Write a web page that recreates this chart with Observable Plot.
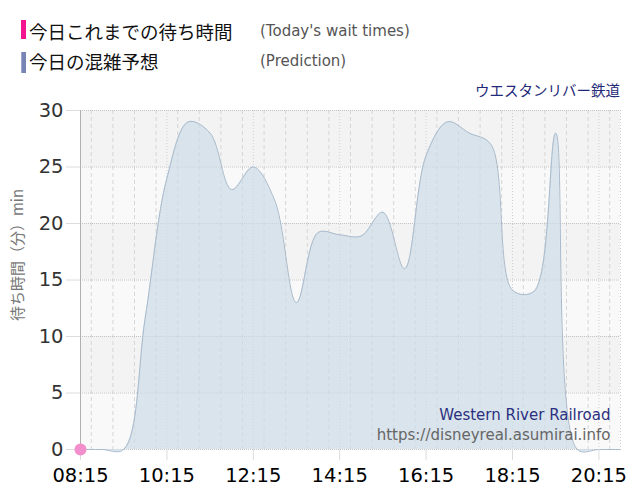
<!DOCTYPE html>
<html><head><meta charset="utf-8">
<script src="https://cdn.jsdelivr.net/npm/d3@7"></script>
<script src="https://cdn.jsdelivr.net/npm/@observablehq/plot@0.6"></script>
<style>
body{margin:0;background:#fff;font-family:"DejaVu Sans","Noto Sans CJK JP",sans-serif;}
#wrap{position:relative;width:640px;height:500px;overflow:hidden;}
#legend{position:relative;width:640px;height:100px;}
#legend div{position:absolute;white-space:nowrap;}
.bar{width:5px;}
.jp{font-size:18.5px;line-height:22px;color:#111;font-family:"Noto Sans CJK JP",sans-serif;}
.en{font-size:15px;line-height:20px;color:#555;}
</style></head>
<body>
<div id="wrap">
  <div id="legend">
    <div class="bar" style="left:21px;top:20px;height:19px;background:#f5148f;"></div>
    <div class="jp" style="left:29px;top:20px;">今日これまでの待ち時間</div>
    <div class="en" style="left:260px;top:21px;">(Today's wait times)</div>
    <div class="bar" style="left:21px;top:52px;height:21px;background:#7884b4;border-left:1px solid #a0a8cc;box-sizing:border-box;"></div>
    <div class="jp" style="left:29px;top:50px;">今日の混雑予想</div>
    <div class="en" style="left:260px;top:51px;">(Prediction)</div>
    <div style="right:20px;top:80px;font-size:14.5px;line-height:20px;color:#1f2a78;font-family:'Noto Sans CJK JP',sans-serif;">ウエスタンリバー鉄道</div>
  </div>
  <div id="chart"></div>
</div>
<script>
// ---- data ----
const predTimes = ["08:15","08:45","09:15","09:45","10:15","10:45","11:15","11:45","12:15","12:45","13:15","13:45","14:15","14:45","15:15","15:45","16:15","16:45","17:15","17:45","18:15","18:45","19:15","19:45","20:15","20:45"];
const predValues = [0,0,0,11.7,24,29,28,23,25,22,13,19.2,19,18.9,21,16,26,29,28,27,14.1,14,28,0,0,0];
const todayTimes = ["08:15"];
const todayValues = [0];
const xTickLabels = ["08:15","10:15","12:15","14:15","16:15","18:15","20:15"];
const yTicks = [0,5,10,15,20,25,30];
const domainStart = "08:15", domainEnd = "20:45";
const yLabel = "待ち時間（分）min";
const attractionEn = "Western River Railroad";
const siteUrl = "https://disneyreal.asumirai.info";

const parse = d3.utcParse("%H:%M");
const fmt = d3.utcFormat("%H:%M");
const pred = predTimes.map((t,i)=>({t:parse(t), v:predValues[i]}));
const today = todayTimes.map((t,i)=>({t:parse(t), v:todayValues[i]}));
const x0 = parse(domainStart), x1 = parse(domainEnd);
const xTicks = xTickLabels.map(parse);
const tickSet = new Set(xTicks.map(d=>+d));
const halfHours = d3.utcMinute.every(30).range(x0, new Date(+x1+1)).filter(d=>!tickSet.has(+d) && +d!==+x0);
const bands = yTicks.slice(0,-1).map((y,i)=>({y1:y, y2:yTicks[i+1], i}));

const font = "DejaVu Sans, Noto Sans CJK JP, sans-serif";
const chart = Plot.plot({
  width: 640, height: 400,
  marginTop: 10, marginBottom: 51, marginLeft: 80, marginRight: 20,
  style: {fontFamily: font, fontSize: "19px", background: "transparent", overflow: "visible"},
  x: {type: "utc", domain: [x0, x1]},
  y: {domain: [0, 30]},
  marks: [
    Plot.rect(bands, {y1:"y1", y2:"y2", fill: d => d.i % 2 ? "#f3f3f3" : "#f9f9f9"}),
    Plot.ruleX(halfHours, {stroke:"#d6d6d6", strokeDasharray:"4,3"}),
    Plot.ruleX(xTicks.filter(d=>+d!==+x0).concat([x1]), {stroke:"#d0d0d0", strokeDasharray:"1,2"}),
    Plot.ruleY(yTicks, {stroke:"#c4c4c4", strokeDasharray:"1,1"}),
    Plot.areaY(pred, {x:"t", y:"v", curve:"catmull-rom", fill:"#cddbe7", fillOpacity:0.7}),
    Plot.lineY(pred, {x:"t", y:"v", curve:"catmull-rom", stroke:"#a8bacb", strokeWidth:1}),
    Plot.ruleX([x0], {stroke:"#b0b0b0", insetBottom:-11}),
    Plot.axisX({ticks: xTicks, tickFormat: fmt, tickSize: 11, tickPadding: 8, color:"#000", stroke:"#dcdcdc", fontSize: 19.5, label: null}),
    Plot.axisY({ticks: yTicks, tickSize: 14, tickPadding: 3, color:"#333", stroke:"#dcdcdc", fontSize: 19.5, label: null}),
    Plot.text([yLabel], {frameAnchor:"left", text: d=>d, rotate:-90, dx:-62, dy:-25, fontSize:15, fill:"#777", fontFamily:"Noto Sans CJK JP, sans-serif", textAnchor:"middle"}),
    Plot.text([attractionEn], {frameAnchor:"bottom-right", text:d=>d, dx:-10, dy:-34, lineAnchor:"middle", fontSize:15, fill:"#2b3080"}),
    Plot.text([siteUrl], {frameAnchor:"bottom-right", text:d=>d, dx:-10, dy:-14, lineAnchor:"middle", fontSize:15, fill:"#666"}),
    Plot.dot(today, {x:"t", y:"v", r:6, fill:"#f28ecb", stroke:"none"})
  ]
});
document.getElementById("chart").appendChild(chart);
</script>
</body></html>
